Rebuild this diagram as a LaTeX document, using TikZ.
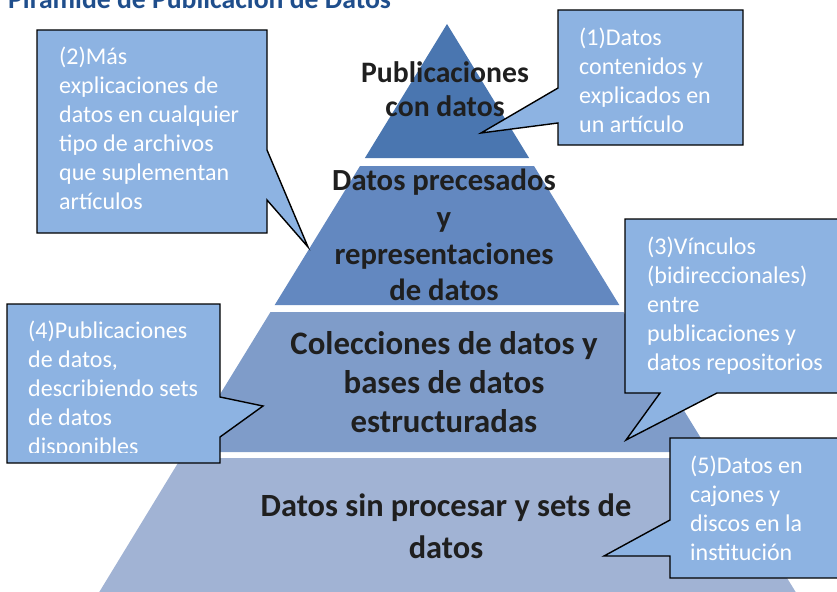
\documentclass[tikz,border=0pt]{standalone}
\usepackage{fontspec}
\setmainfont{Carlito}
\definecolor{tierA}{HTML}{4A76B0}
\definecolor{tierB}{HTML}{6388C0}
\definecolor{tierC}{HTML}{7F9CC9}
\definecolor{tierD}{HTML}{A1B3D4}
\definecolor{callfill}{HTML}{8DB3E2}
\definecolor{titlecol}{HTML}{1F4E8C}
\tikzset{
  tier/.style={draw=none},
  callout/.style={draw=black, line width=1.4pt, fill=callfill, line join=miter},
  ctext/.style={text=white, align=left, inner sep=0pt, anchor=base west,
    font=\fontsize{24}{29}\selectfont},
  ptext/.style={text=black!88, align=center, inner sep=0pt},
}
\begin{document}
\begin{tikzpicture}[x=1pt,y=-1pt]
\useasboundingbox (0,0) rectangle (837,591);
\clip (0,0) rectangle (837,591);
% title (cut at top)
\node[anchor=base west, inner sep=0pt, text=titlecol,
  font=\bfseries\fontsize{27.7}{30}\selectfont] (title) at (8,9) {Pirámide de Publicación de Datos};
% pyramid tiers
\fill[tierA] (447,24) -- (529.1,158) -- (364.9,158) -- cycle;
\fill[tierB] (360,166) -- (534,166) -- (619.3,305) -- (274.7,305) -- cycle;
\fill[tierC] (270.5,312) -- (623.5,312) -- (709.4,452) -- (184.6,452) -- cycle;
\fill[tierD] (181,458) -- (713,458) -- (800.6,600) -- (94.4,600) -- cycle;
% tier labels
\node[ptext, font=\bfseries\fontsize{29.7}{34}\selectfont] (p1) at (445,89) {Publicaciones\\con datos};
\node[ptext, font=\bfseries\fontsize{30.7}{36.7}\selectfont] (p2) at (444,235) {Datos precesados\\y\\representaciones\\de datos};
\node[ptext, font=\bfseries\fontsize{32.8}{39}\selectfont] (p3) at (444,382) {Colecciones de datos y\\bases de datos\\estructuradas};
\node[ptext, font=\bfseries\fontsize{32.4}{42}\selectfont] (p4) at (446,526) {Datos sin procesar y sets de\\datos};
% callout 1
\draw[callout] (558,10) -- (743,10) -- (743,145) -- (558,145) -- (558,123) -- (481,133) -- (558,88) -- cycle;
\node[ctext] (c1) at (579,132) {(1)Datos\\contenidos y\\explicados en\\un artículo};
% callout 2
\draw[callout] (37,30) -- (267,30) -- (267,150) -- (308,247) -- (267,200) -- (267,233) -- (37,233) -- cycle;
\node[ctext] (c2) at (59,209) {(2)Más\\explicaciones de\\datos en cualquier\\tipo de archivos\\que suplementan\\artículos};
% callout 3
\draw[callout] (625,219) -- (850,219) -- (850,393) -- (717,393) -- (626,440) -- (660,393) -- (625,393) -- cycle;
\node[ctext] (c3) at (647,370) {(3)Vínculos\\(bidireccionales)\\entre\\publicaciones y\\datos repositorios};
% callout 4
\draw[callout] (7,304) -- (220,304) -- (220,397) -- (263,406) -- (220,437) -- (220,463) -- (7,463) -- cycle;
\begin{scope}
\clip (7,304) rectangle (220,452);
\node[ctext] (c4) at (28,454) {(4)Publicaciones\\de datos,\\describiendo sets\\de datos\\disponibles};
\end{scope}
% callout 5
\draw[callout] (670,438) -- (850,438) -- (850,578) -- (670,578) -- (670,556) -- (604,556) -- (670,520) -- cycle;
\node[ctext] (c5) at (690,560) {(5)Datos en\\cajones y\\discos en la\\institución};
\end{tikzpicture}
\end{document}
